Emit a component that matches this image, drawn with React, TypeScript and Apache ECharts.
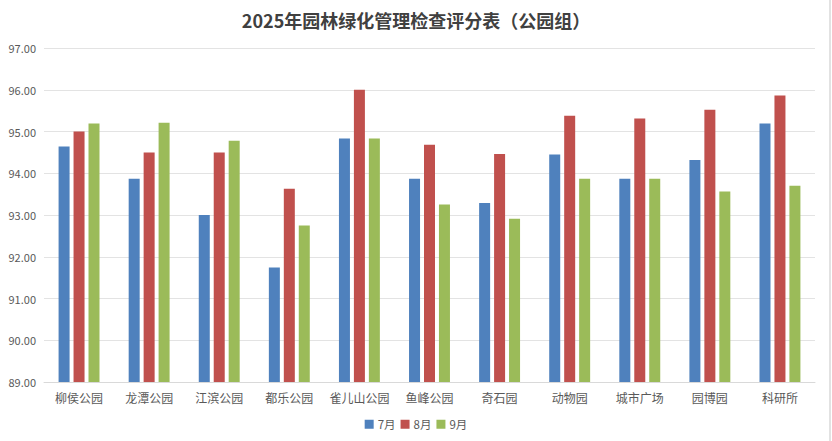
import React, { useEffect, useRef } from "react";
import * as echarts from "echarts";

const categories = ["柳侯公园", "龙潭公园", "江滨公园", "都乐公园", "雀儿山公园", "鱼峰公园", "奇石园", "动物园", "城市广场", "园博园", "科研所"];
const julValues = [94.64, 93.87, 93.0, 91.74, 94.83, 93.87, 93.29, 94.45, 93.87, 94.32, 95.19];
const augValues = [95.0, 94.5, 94.5, 93.63, 96.0, 94.68, 94.46, 95.38, 95.31, 95.52, 95.86];
const sepValues = [95.19, 95.21, 94.78, 92.75, 94.83, 93.25, 92.91, 93.87, 93.87, 93.56, 93.7];
const seriesNames = ["7月", "8月", "9月"];
const title = "2025年园林绿化管理检查评分表（公园组）";

const FONT = "'Noto Sans CJK SC', 'Noto Sans', sans-serif";

export default function App() {
  const ref = useRef<HTMLDivElement>(null);
  useEffect(() => {
    if (!ref.current) return;
    const chart = echarts.init(ref.current, undefined, { renderer: "svg" });
    const colors = ["#4F81BD", "#C0504D", "#9BBB59"];
    const data = [julValues, augValues, sepValues];
    chart.setOption({
      animation: false,
      backgroundColor: "#ffffff",
      textStyle: { fontFamily: FONT },
      title: {
        text: title,
        left: "center",
        top: 6,
        textStyle: { fontSize: 18, fontWeight: "bold", color: "#404040", fontFamily: FONT },
      },
      legend: {
        bottom: 6,
        left: "center",
        itemWidth: 9,
        itemHeight: 9,
        itemGap: 5,
        icon: "rect",
        textStyle: { fontSize: 11.5, color: "#595959", fontFamily: FONT, padding: [0, 0, 0, -1] },
        data: seriesNames,
      },
      grid: { left: 44, right: 17, top: 48, bottom: 59, containLabel: false },
      xAxis: {
        type: "category",
        data: categories,
        axisLine: { lineStyle: { color: "#d9d9d9", width: 1 } },
        axisTick: { show: false },
        axisLabel: { fontSize: 12, color: "#595959", margin: 9, interval: 0, fontFamily: FONT },
      },
      yAxis: {
        type: "value",
        min: 89,
        max: 97,
        interval: 1,
        axisLine: { show: false },
        axisTick: { show: false },
        splitLine: { lineStyle: { color: "#e3e3e3", width: 1 } },
        axisLabel: {
          fontSize: 11,
          color: "#595959",
          margin: 8,
          fontFamily: FONT,
          formatter: (v: number) => v.toFixed(2),
        },
      },
      series: seriesNames.map((name, i) => ({
        name,
        type: "bar",
        data: data[i],
        barWidth: 11,
        barGap: "36%",
        itemStyle: { color: colors[i] },
      })),
      graphic: [
        {
          type: "line",
          shape: { x1: 830, y1: 0, x2: 830, y2: 441 },
          style: { stroke: "#d9d9d9", lineWidth: 1.5 },
        },
      ],
    });
    return () => chart.dispose();
  }, []);
  return <div ref={ref} style={{ width: 832, height: 441, position: "absolute", left: 0, top: 0 }} />;
}
